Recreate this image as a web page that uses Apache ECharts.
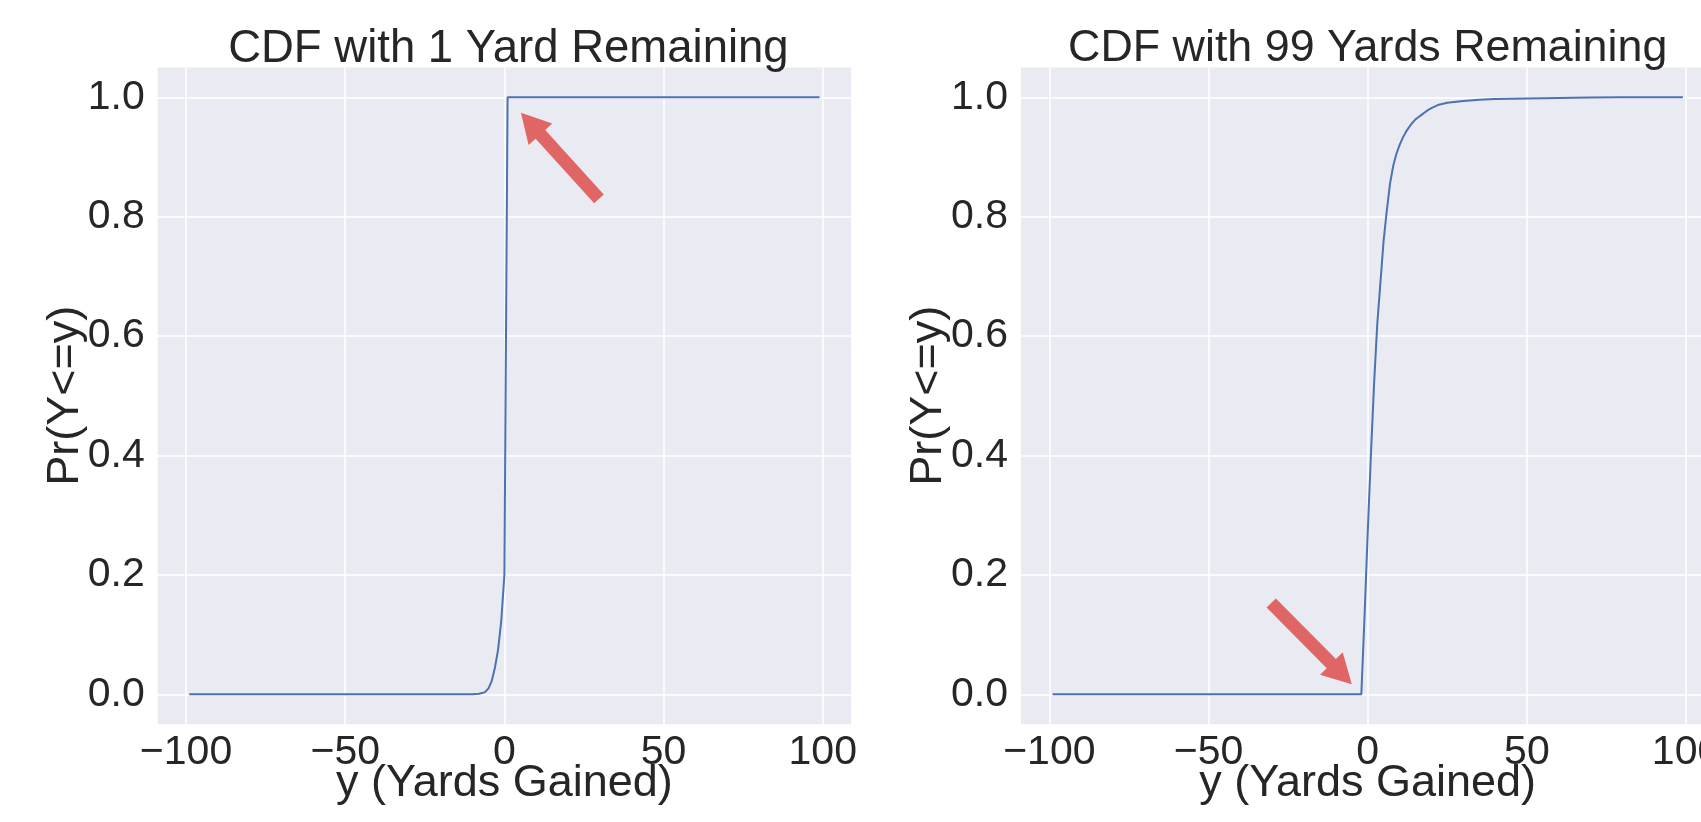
<!DOCTYPE html>
<html><head><meta charset="utf-8">
<script src="https://cdn.jsdelivr.net/npm/echarts@6/dist/echarts.min.js"></script>
<style>html,body{margin:0;padding:0;background:#fff;} #c{width:1701px;height:822px;}</style>
</head><body><div id="c"></div>
<script>
// ---- data ----
const titles = ['CDF with 1 Yard Remaining', 'CDF with 99 Yards Remaining'];
const xAxisName = 'y (Yards Gained)';
const yAxisName = 'Pr(Y<=y)';
const xTicks = [-100, -50, 0, 50, 100];
const yTicks = [0, 0.2, 0.4, 0.6, 0.8, 1.0];

const yards1X = [-99, -10, -9, -8, -7, -6, -5, -4, -3, -2, -1, 0, 1, 99];
const yards1Y = [0, 0, 0.0005, 0.001, 0.002, 0.004, 0.01, 0.022, 0.044, 0.074, 0.122, 0.2, 1.0, 1.0];

const yards99X = [-99, -2, -1, 0, 1, 2, 3, 4, 5, 6, 7, 8, 9, 10, 11, 12, 13, 14, 15, 16, 17, 18, 19, 20, 22, 25, 30, 35, 40, 50, 60, 70, 80, 99];
const yards99Y = [0, 0, 0.13, 0.27, 0.40, 0.52, 0.62, 0.69, 0.76, 0.81, 0.855, 0.885, 0.905, 0.92, 0.932, 0.942, 0.95, 0.957, 0.963, 0.967, 0.971, 0.975, 0.979, 0.982, 0.987, 0.991, 0.994, 0.996, 0.997, 0.998, 0.999, 0.9995, 1.0, 1.0];

// annotation arrows: [tailX, tailY, tipX, tipY] in data units
const arrow1 = [29.7, 0.83, 5.2, 0.974];
const arrow99 = [-30.3, 0.153, -5.0, 0.017];

// ---- style ----
const FONT = '"Liberation Sans", Arial, Helvetica, sans-serif';
const TXT = '#262626';
const LINE = '#4c72b0';
const ARROW = '#e06666';

function zip(xs, ys) { return xs.map((x, i) => [x, ys[i]]); }
function fmtX(v) { return v < 0 ? '\u2212' + Math.abs(v) : String(v); }

const grids = [
  { left: 157.7, top: 67.45, width: 693.4, height: 656.7 },
  { left: 1021.0, top: 67.45, width: 693.4, height: 656.7 }
];
const titleFont = [45.5, 44.8];
const titleShift = [4, 0];

function xAxis(i) {
  return {
    type: 'value', gridIndex: i, min: -108.9, max: 108.9,
    axisLine: { show: false },
    axisTick: { show: false, customValues: xTicks },
    axisLabel: { customValues: xTicks, fontSize: 41, color: TXT, fontFamily: FONT, margin: 8, formatter: fmtX },
    splitLine: { show: true, lineStyle: { color: '#ffffff', width: 1.5 } },
    name: xAxisName, nameLocation: 'middle', nameGap: 37, nameMoveOverlap: false,
    nameTextStyle: { fontSize: 45, color: TXT, fontFamily: FONT }
  };
}
function yAxis(i) {
  return {
    type: 'value', gridIndex: i, min: -0.05, max: 1.05,
    axisLine: { show: false },
    axisTick: { show: false, customValues: yTicks },
    axisLabel: { customValues: yTicks, fontSize: 41, color: TXT, fontFamily: FONT, margin: 13, formatter: v => v.toFixed(1) },
    splitLine: { show: true, lineStyle: { color: '#ffffff', width: 1.5 } },
    name: yAxisName, nameLocation: 'middle', nameGap: 70, nameRotate: 90, nameMoveOverlap: false,
    nameTextStyle: { fontSize: 45, color: TXT, fontFamily: FONT }
  };
}

function renderArrow(params, api) {
  const t = api.coord([api.value(0), api.value(1)]);
  const h = api.coord([api.value(2), api.value(3)]);
  const dx = h[0] - t[0], dy = h[1] - t[1];
  const L = Math.hypot(dx, dy);
  const ux = dx / L, uy = dy / L, px = -uy, py = ux;
  const sw = 6.5, hw = 16, hl = 29;
  const bx = h[0] - ux * hl, by = h[1] - uy * hl;
  const pts = [
    [t[0] + px * sw, t[1] + py * sw], [bx + px * sw, by + py * sw], [bx + px * hw, by + py * hw],
    [h[0], h[1]],
    [bx - px * hw, by - py * hw], [bx - px * sw, by - py * sw], [t[0] - px * sw, t[1] - py * sw]
  ];
  return { type: 'polygon', shape: { points: pts }, style: { fill: ARROW } };
}

const chart = echarts.init(document.getElementById('c'), null, { renderer: 'canvas' });
chart.setOption({
  animation: false,
  backgroundColor: '#ffffff',
  grid: grids.map(g => Object.assign({ show: true, backgroundColor: '#eaeaf2', borderWidth: 0, containLabel: false, outerBoundsMode: 'none' }, g)),
  xAxis: [xAxis(0), xAxis(1)],
  yAxis: [yAxis(0), yAxis(1)],
  graphic: titles.map((t, i) => ({
    type: 'text',
    x: grids[i].left + grids[i].width / 2 + titleShift[i],
    y: 49,
    style: { text: t, font: titleFont[i] + 'px ' + FONT, fill: TXT, textAlign: 'center', textVerticalAlign: 'middle' }
  })),
  series: [
    { type: 'line', xAxisIndex: 0, yAxisIndex: 0, data: zip(yards1X, yards1Y), showSymbol: false, lineStyle: { color: LINE, width: 2 }, itemStyle: { color: LINE } },
    { type: 'line', xAxisIndex: 1, yAxisIndex: 1, data: zip(yards99X, yards99Y), showSymbol: false, lineStyle: { color: LINE, width: 2 }, itemStyle: { color: LINE } },
    { type: 'custom', xAxisIndex: 0, yAxisIndex: 0, renderItem: renderArrow, data: [arrow1], encode: { x: [0, 2], y: [1, 3] }, clip: false, z: 5 },
    { type: 'custom', xAxisIndex: 1, yAxisIndex: 1, renderItem: renderArrow, data: [arrow99], encode: { x: [0, 2], y: [1, 3] }, clip: false, z: 5 }
  ]
});
</script>
</body></html>
